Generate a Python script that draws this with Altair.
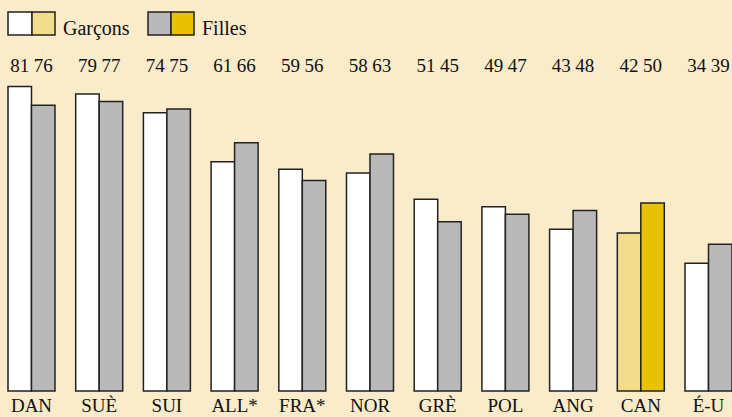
import altair as alt
import pandas as pd

# Share of students (%) by country, boys vs girls
countries = ["DAN", "SUÈ", "SUI", "ALL*", "FRA*", "NOR", "GRÈ", "POL", "ANG", "CAN", "É-U"]
garcons = [81, 79, 74, 61, 59, 58, 51, 49, 43, 42, 34]
filles = [76, 77, 75, 66, 56, 63, 45, 47, 48, 50, 39]
highlight = "CAN"

rows = []
for c, g, f in zip(countries, garcons, filles):
    for sexe, v in (("Garçons", g), ("Filles", f)):
        key = ("hl-" if c == highlight else "") + sexe
        rows.append({"pays": c, "sexe": sexe, "valeur": v, "cle": key})
df = pd.DataFrame(rows)

BG = "#FAEBCA"
SERIF = "Liberation Serif"
EDGE = "#222222"

x_enc = alt.X("pays:N", sort=countries, title=None,
              scale=alt.Scale(range=[8, 732], paddingInner=0.306, paddingOuter=0),
              axis=alt.Axis(domain=False, ticks=False, labelAngle=0, labelFont=SERIF,
                            labelFontSize=19, labelColor="#111", labelPadding=5))
xo_enc = alt.XOffset("sexe:N", sort=["Garçons", "Filles"],
                     scale=alt.Scale(paddingInner=0, paddingOuter=0))

base = alt.Chart(df).encode(x=x_enc, xOffset=xo_enc)

bars = base.mark_bar(stroke=EDGE, strokeWidth=1.5, cornerRadius=0).encode(
    y=alt.Y("valeur:Q", scale=alt.Scale(domain=[0, 391 / 3.76], nice=False),
            axis=None),
    color=alt.Color("cle:N", legend=None,
                    scale=alt.Scale(domain=["Garçons", "Filles", "hl-Garçons", "hl-Filles"],
                                    range=["#FFFFFF", "#B9B9B9", "#F3DC8C", "#E8C200"])),
)

values = base.mark_text(font=SERIF, fontSize=19, baseline="middle", color="#111").encode(
    y=alt.value(66),
    text="valeur:Q",
)

one = alt.Data(values=[{}])


def swatch(x0, x1, fill):
    return alt.Chart(one).mark_rect(fill=fill, stroke=EDGE, strokeWidth=1.5).encode(
        x=alt.value(x0), x2=alt.value(x1), y=alt.value(12), y2=alt.value(35))


def label(x0, txt):
    return alt.Chart(one).mark_text(font=SERIF, fontSize=20, align="left",
                                    baseline="alphabetic", color="#111").encode(
        x=alt.value(x0), y=alt.value(35), text=alt.value(txt))


legend = (swatch(8, 32, "#FFFFFF") + swatch(32, 55, "#F3DC8C") + label(63, "Garçons")
          + swatch(148, 171, "#B9B9B9") + swatch(171, 194, "#E8C200") + label(202, "Filles"))

chart = alt.layer(bars, values, legend).properties(
    width=732, height=391,
    autosize=alt.AutoSizeParams(type="none"),
    padding={"left": 0, "top": 0, "right": 0, "bottom": 26},
    background=BG,
).configure_view(stroke=None, fill=BG)

chart.save("out.html", embed_options={"renderer": "svg", "actions": False})
